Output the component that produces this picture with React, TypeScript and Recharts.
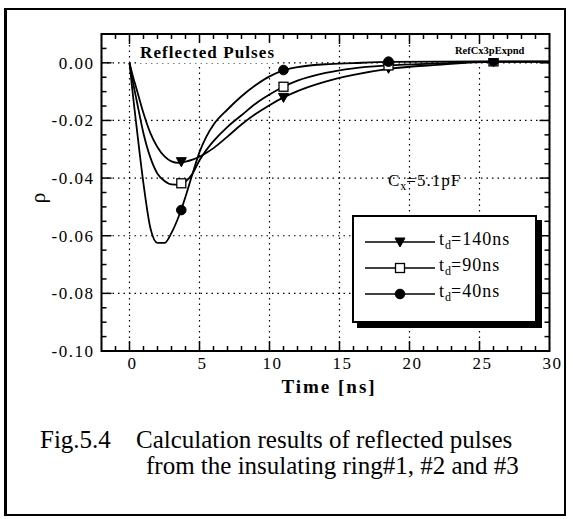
import React from 'react';
import {
  ComposedChart,
  Line,
  Scatter,
  XAxis,
  YAxis,
  CartesianGrid,
  ReferenceLine,
  ReferenceArea,
  Legend,
} from 'recharts';

// ---- data ----
const timeNs = [0, 0.25, 0.5, 1, 1.5, 2, 2.5, 3, 3.5, 4, 4.5, 5, 5.5, 6, 7, 8, 9, 10, 11, 12, 14, 16, 18.5, 22, 26, 30];
const rho140 = [0, -0.0048, -0.009, -0.0175, -0.0245, -0.0293, -0.0325, -0.0342, -0.0347, -0.0343, -0.0336, -0.0326, -0.0312, -0.0296, -0.0256, -0.0214, -0.0178, -0.0147, -0.012, -0.0098, -0.0065, -0.0042, -0.0021, -0.0007, 0.0003, 0.0003];
const rho90 = [0, -0.0068, -0.0128, -0.0245, -0.033, -0.0385, -0.041, -0.0422, -0.0423, -0.0412, -0.0385, -0.0338, -0.0302, -0.0272, -0.0222, -0.0182, -0.0142, -0.011, -0.0083, -0.0062, -0.0035, -0.0019, -0.0009, -0.0002, 0.0004, 0.0004];
const rho40 = [0, -0.0115, -0.022, -0.042, -0.0575, -0.0625, -0.0625, -0.059, -0.0535, -0.0465, -0.0385, -0.031, -0.0255, -0.0215, -0.0162, -0.0116, -0.0078, -0.0047, -0.0026, -0.0015, -0.0005, -0.0001, 0.0003, 0.0004, 0.0005, 0.0005];

const markerTimes = [3.7, 11, 18.5, 26];
const mark140 = [-0.0343, -0.012, -0.0019, 0.0004];
const mark90 = [-0.0418, -0.0083, -0.0009, 0.0005];
const mark40 = [-0.0511, -0.0025, 0.0004, 0.0006];

const xTicks = [0, 5, 10, 15, 20, 25, 30];
const yTicks = [-0.1, -0.08, -0.06, -0.04, -0.02, 0];
const xDomain = [-2, 30];
const yDomain = [-0.1, 0.01];

const seriesNames = ['140ns', '90ns', '40ns'];
const seriesShapes = ['triangle', 'square', 'circle'];

const toPoints = (xs: number[], ys: number[]) => xs.map((t, i) => ({ t, rho: ys[i] }));

const series = [
  { name: seriesNames[0], shape: seriesShapes[0], curve: toPoints(timeNs, rho140), marks: toPoints(markerTimes, mark140) },
  { name: seriesNames[1], shape: seriesShapes[1], curve: toPoints(timeNs, rho90), marks: toPoints(markerTimes, mark90) },
  { name: seriesNames[2], shape: seriesShapes[2], curve: toPoints(timeNs, rho40), marks: toPoints(markerTimes, mark40) },
];

// minor/major tick positions for the inward tick marks
const xMinor: number[] = [];
for (let t = -1; t < 30; t++) if (t % 5 !== 0) xMinor.push(t);
const xMajor = [0, 5, 10, 15, 20, 25];
const yMinor: number[] = [];
for (let k = -19; k <= 1; k++) if (k % 4 !== 0) yMinor.push(k * 0.005);
const yMajor = [-0.08, -0.06, -0.04, -0.02, 0];

const FONT = '"Liberation Serif", "DejaVu Serif", serif';

const drawMarker = (shape: string, cx: number, cy: number, key?: string) => {
  if (shape === 'triangle') {
    return (
      <path key={key} d={`M${cx - 5},${cy - 4} L${cx + 5},${cy - 4} L${cx},${cy + 5} Z`} fill="#000" stroke="#000" strokeWidth={1} />
    );
  }
  if (shape === 'square') {
    return <rect key={key} x={cx - 4.5} y={cy - 4.5} width={9} height={9} fill="#fff" stroke="#000" strokeWidth={1.3} />;
  }
  return <circle key={key} cx={cx} cy={cy} r={4.8} fill="#000" stroke="#000" />;
};

const makeShape = (shape: string) => (props: any) => {
  const { cx, cy } = props;
  if (cx == null || cy == null) return <g />;
  return drawMarker(shape, cx, cy);
};

const LegendBox = () => (
  <div
    style={{
      width: 185,
      height: 108,
      border: '2px solid #000',
      boxShadow: '5px 5px 0 #000',
      background: '#fff',
      boxSizing: 'border-box',
      position: 'relative',
      fontFamily: FONT,
    }}
  >
    {series.map((s, i) => (
      <div
        key={s.name}
        style={{ position: 'absolute', left: 11, top: 26.7 + i * 26.2 - 2 - 10, height: 20, display: 'flex', alignItems: 'center' }}
      >
        <svg width={74} height={20} style={{ display: 'block' }}>
          <line x1={0} y1={10} x2={70} y2={10} stroke="#000" strokeWidth={1.5} />
          {drawMarker(s.shape, 35, 10)}
        </svg>
        <span style={{ fontSize: 18, letterSpacing: 1, color: '#000', whiteSpace: 'nowrap', lineHeight: '20px' }}>
          t<sub style={{ fontSize: 12, verticalAlign: '-4px', letterSpacing: 0 }}>d</sub>={s.name}
        </span>
      </div>
    ))}
  </div>
);

const CHART_W = 573;
const CHART_H = 519;
const Y_AXIS_W = 60;
const X_AXIS_H = 30;
const MAJOR_PX = 10;
const MINOR_PX = 5;
const PX_PER_X = 448 / 32;
const PX_PER_Y = 317 / 0.11;

export default function App() {
  const tickStyle = { fontFamily: FONT, fontSize: 17, fill: '#000', letterSpacing: 1.5 };
  return (
    <div style={{ position: 'absolute', left: 0, top: 0, width: CHART_W, height: CHART_H, background: '#fff', fontFamily: FONT }}>
      {/* outer figure frame */}
      <div
        style={{
          position: 'absolute',
          left: 4,
          top: 8,
          width: 562,
          height: 508,
          borderTop: '2px solid #000',
          borderRight: '2px solid #000',
          borderBottom: '2px solid #000',
          borderLeft: '3px solid #000',
          boxSizing: 'border-box',
        }}
      />
      <div style={{ position: 'absolute', left: 0, top: 0 }}>
        <ComposedChart
          width={CHART_W}
          height={CHART_H}
          margin={{ top: 34, right: CHART_W - 549.5, left: 101.5 - Y_AXIS_W, bottom: CHART_H - 351 - X_AXIS_H }}
        >
          <CartesianGrid stroke="#000" strokeWidth={1.2} strokeDasharray="1.5 4" />
          <XAxis
            dataKey="t"
            type="number"
            domain={xDomain}
            ticks={xTicks}
            allowDataOverflow
            height={X_AXIS_H}
            tickLine={false}
            axisLine={false}
            tickSize={0}
            tickMargin={6}
            dx={3}
            tick={tickStyle}
            interval={0}
          />
          <YAxis
            dataKey="rho"
            type="number"
            domain={yDomain}
            ticks={yTicks}
            allowDataOverflow
            width={Y_AXIS_W}
            tickLine={false}
            axisLine={false}
            tickSize={0}
            tickMargin={7}
            tick={tickStyle}
            tickFormatter={(v: number) => v.toFixed(2)}
            interval={0}
          />
          {series.map((s) => (
            <Line
              key={'l' + s.name}
              data={s.curve}
              dataKey="rho"
              type="monotone"
              stroke="#000"
              strokeWidth={1.8}
              dot={false}
              activeDot={false}
              isAnimationActive={false}
              legendType="none"
            />
          ))}
          {series.map((s) => (
            <Scatter
              key={'s' + s.name}
              data={s.marks}
              dataKey="rho"
              shape={makeShape(s.shape)}
              isAnimationActive={false}
              legendType="none"
            />
          ))}
          {xMinor.map((t) => (
            <ReferenceLine key={'xb' + t} segment={[{ x: t, y: yDomain[0] }, { x: t, y: yDomain[0] + MINOR_PX / PX_PER_Y }]} stroke="#000" strokeWidth={1.5} />
          ))}
          {xMajor.map((t) => (
            <ReferenceLine key={'xB' + t} segment={[{ x: t, y: yDomain[0] }, { x: t, y: yDomain[0] + MAJOR_PX / PX_PER_Y }]} stroke="#000" strokeWidth={1.5} />
          ))}
          {xMinor.map((t) => (
            <ReferenceLine key={'xt' + t} segment={[{ x: t, y: yDomain[1] }, { x: t, y: yDomain[1] - MINOR_PX / PX_PER_Y }]} stroke="#000" strokeWidth={1.5} />
          ))}
          {xMajor.map((t) => (
            <ReferenceLine key={'xT' + t} segment={[{ x: t, y: yDomain[1] }, { x: t, y: yDomain[1] - MAJOR_PX / PX_PER_Y }]} stroke="#000" strokeWidth={1.5} />
          ))}
          {yMinor.map((v) => (
            <ReferenceLine key={'yl' + v} segment={[{ x: xDomain[0], y: v }, { x: xDomain[0] + MINOR_PX / PX_PER_X, y: v }]} stroke="#000" strokeWidth={1.5} />
          ))}
          {yMajor.map((v) => (
            <ReferenceLine key={'yL' + v} segment={[{ x: xDomain[0], y: v }, { x: xDomain[0] + MAJOR_PX / PX_PER_X, y: v }]} stroke="#000" strokeWidth={1.5} />
          ))}
          {yMinor.map((v) => (
            <ReferenceLine key={'yr' + v} segment={[{ x: xDomain[1], y: v }, { x: xDomain[1] - MINOR_PX / PX_PER_X, y: v }]} stroke="#000" strokeWidth={1.5} />
          ))}
          {yMajor.map((v) => (
            <ReferenceLine key={'yR' + v} segment={[{ x: xDomain[1], y: v }, { x: xDomain[1] - MAJOR_PX / PX_PER_X, y: v }]} stroke="#000" strokeWidth={1.5} />
          ))}
          <ReferenceArea
            x1={xDomain[0]}
            x2={xDomain[1]}
            y1={yDomain[0]}
            y2={yDomain[1]}
            fill="none"
            fillOpacity={0}
            stroke="#000"
            strokeWidth={2}
          />
          <Legend
            layout="vertical"
            align="center"
            verticalAlign="middle"
            content={() => <LegendBox />}
            wrapperStyle={{ position: 'absolute', left: 352, top: 215, width: 185, height: 108 }}
          />
        </ComposedChart>
      </div>
      {/* annotations */}
      <div
        style={{
          position: 'absolute',
          left: 139,
          top: 43,
          fontSize: 17,
          fontWeight: 'bold',
          letterSpacing: 1.1,
          background: '#fff',
          lineHeight: '20px',
          padding: '0 1px',
          whiteSpace: 'nowrap',
        }}
      >
        Reflected Pulses
      </div>
      <div
        style={{
          position: 'absolute',
          left: 455,
          top: 44,
          fontSize: 10.5,
          fontWeight: 'bold',
          background: '#fff',
          lineHeight: '14px',
          whiteSpace: 'nowrap',
        }}
      >
        RefCx3pExpnd
      </div>
      <div
        style={{
          position: 'absolute',
          left: 388,
          top: 170,
          fontSize: 17,
          letterSpacing: 1,
          lineHeight: '22px',
          whiteSpace: 'nowrap',
        }}
      >
        C<sub style={{ fontSize: 12, verticalAlign: '-4px', letterSpacing: 0 }}>x</sub>=5.1pF
      </div>
      <div
        style={{
          position: 'absolute',
          left: 236,
          top: 375,
          width: 186,
          textAlign: 'center',
          fontSize: 19,
          fontWeight: 'bold',
          letterSpacing: 2,
          lineHeight: '24px',
          whiteSpace: 'nowrap',
        }}
      >
        Time [ns]
      </div>
      <div
        style={{
          position: 'absolute',
          left: 28,
          top: 186,
          width: 20,
          height: 24,
          fontSize: 22,
          lineHeight: '24px',
          textAlign: 'center',
          transform: 'rotate(-90deg)',
        }}
      >
        ρ
      </div>
      <div style={{ position: 'absolute', left: 40, top: 429, fontSize: 25, lineHeight: '22px', whiteSpace: 'nowrap' }}>
        Fig.5.4
      </div>
      <div style={{ position: 'absolute', left: 136, top: 429, fontSize: 25, lineHeight: '22px', whiteSpace: 'nowrap' }}>
        Calculation results of reflected pulses
      </div>
      <div style={{ position: 'absolute', left: 146, top: 455, fontSize: 25, lineHeight: '22px', whiteSpace: 'nowrap' }}>
        from the insulating ring#1, #2 and #3
      </div>
    </div>
  );
}
